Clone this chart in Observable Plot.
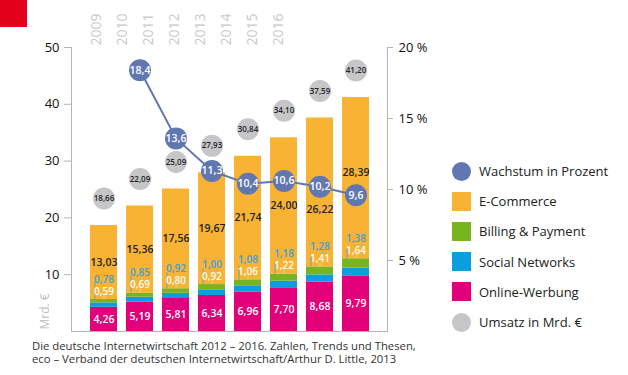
<!DOCTYPE html>
<html>
<head>
<meta charset="utf-8">
<script src="https://cdn.jsdelivr.net/npm/d3@7"></script>
<script src="https://cdn.jsdelivr.net/npm/@observablehq/plot@0.6"></script>
<style>
  body { margin: 0; background: #fff; font-family: "Open Sans", sans-serif; }
  #wrap { position: relative; width: 628px; height: 375px; overflow: hidden; }
  #red { position: absolute; left: 0; top: 0; width: 27px; height: 27px; background: #e2001a; z-index: 3; }
  #main, #years { position: absolute; left: 0; top: 0; }
  #years { z-index: 2; }
  #legend { position: absolute; left: 452px; top: 156px; font-size: 13px; color: #222; }
  .row { height: 30.2px; display: flex; align-items: center; white-space: nowrap; }
  .mk { width: 19px; height: 19px; margin-right: 8px; box-sizing: border-box; }
  .circle { border-radius: 50%; }
  #caption { position: absolute; left: 32px; top: 340px; font-size: 11.3px; line-height: 12.5px; color: #333; white-space: nowrap; }
  #caption div { height: 12.5px; }
</style>
</head>
<body>
<div id="wrap">
  <div id="red"></div>
  <div id="main"></div>
  <div id="years"></div>
  <div id="legend"></div>
  <div id="caption"><div>Die deutsche Internetwirtschaft 2012 – 2016. Zahlen, Trends und Thesen,</div><div>eco – Verband der deutschen Internetwirtschaft/Arthur D. Little, 2013</div></div>
</div>
<script>
// ---- data ----
const years = ["2009", "2010", "2011", "2012", "2013", "2014", "2015", "2016"];
const onlineWerbung = [4.26, 5.19, 5.81, 6.34, 6.96, 7.70, 8.68, 9.79];
const socialNetworks = [0.78, 0.85, 0.92, 1.00, 1.08, 1.18, 1.28, 1.38];
const billingPayment = [0.59, 0.69, 0.80, 0.92, 1.06, 1.22, 1.41, 1.64];
const eCommerce = [13.03, 15.36, 17.56, 19.67, 21.74, 24.00, 26.22, 28.39];
const umsatz = [18.66, 22.09, 25.09, 27.93, 30.84, 34.10, 37.59, 41.20];
const growthYears = ["2010", "2011", "2012", "2013", "2014", "2015", "2016"];
const wachstum = [18.4, 13.6, 11.3, 10.4, 10.6, 10.2, 9.6];
const leftTicks = [10, 20, 30, 40, 50];
const rightTicks = [5, 10, 15, 20];
const seriesNames = ["Online-Werbung", "Social Networks", "Billing & Payment", "E-Commerce"];
const seriesColors = ["#e2007a", "#0a9ee0", "#78b41f", "#f8b234"];

// ---- derived tables ----
const pctMax = 20, yMax = 50;
const pctToY = p => p * yMax / pctMax;
const growthByYear = new Map(growthYears.map((y, i) => [y, pctToY(wachstum[i])]));
const seriesValues = [onlineWerbung, socialNetworks, billingPayment, eCommerce];
const stackRows = [];
years.forEach((y, i) => seriesNames.forEach((s, k) => stackRows.push({year: y, series: s, value: seriesValues[k][i]})));
const avoid = 4; // keep E-Commerce labels clear of the growth circles (in y units)
const rows = years.map((y, i) => {
  const o = onlineWerbung[i], s = socialNetworks[i], b = billingPayment[i], e = eCommerce[i];
  let eLab = o + s + b + e / 2;
  const g = growthByYear.get(y);
  if (g !== undefined && Math.abs(eLab - g) < avoid) eLab = eLab < g ? g - avoid : g + avoid;
  return {year: y, o, s, b, e, total: umsatz[i], sMid: o + s / 2, gTop: o + s + b, eLab};
});
const growthRows = growthYears.map((y, i) => ({year: y, p: wachstum[i]}));
const fmt2 = v => v.toFixed(2).replace(".", ",");
const fmt1 = v => v.toFixed(1).replace(".", ",");
const font = "Open Sans";

const axisGrey = "#b4b4b4";
const growthBlue = "#6177b1";

const chart = Plot.plot({
  width: 628,
  height: 336,
  marginTop: 47,
  marginBottom: 5,
  marginLeft: 71,
  marginRight: 241,
  style: {fontFamily: font, background: "transparent", overflow: "visible"},
  x: {type: "band", domain: years, paddingInner: 0.26, paddingOuter: 0.467, axis: null},
  y: {domain: [0, yMax], axis: null},
  color: {domain: seriesNames, range: seriesColors},
  marks: [
    Plot.barY(stackRows, {x: "year", y: "value", fill: "series"}),
    Plot.frame({anchor: "left", stroke: axisGrey}),
    Plot.frame({anchor: "right", stroke: axisGrey}),
    Plot.frame({anchor: "bottom", stroke: axisGrey}),
    Plot.axisY(leftTicks, {anchor: "left", tickSize: 7, tickPadding: 5, fontSize: 13, stroke: axisGrey, fill: "#111", label: null}),
    Plot.axisY(rightTicks.map(pctToY), {anchor: "right", tickSize: 5, tickPadding: 6, fontSize: 13, stroke: axisGrey, fill: "#111", label: null, tickFormat: d => (d * pctMax / yMax) + " %"}),
    Plot.text(["Mrd. €"], {frameAnchor: "bottom-left", dx: -23, dy: -2, rotate: -90, textAnchor: "start", fontSize: 12, fill: "#bdbdbd"}),
    // leader lines
    Plot.ruleX(rows, {x: "year", y1: "sMid", y2: "gTop", dx: -9, insetTop: -23, stroke: "#3aa3dc", strokeOpacity: 0.75}),
    Plot.ruleX(rows, {x: "year", y1: "gTop", y2: "gTop", insetTop: -4, stroke: "#c9dea0"}),
    // segment labels
    Plot.text(rows, {x: "year", y: d => d.o / 2, text: d => fmt2(d.o), fill: "#fff", fontSize: 10.5, fontWeight: 600}),
    Plot.text(rows, {x: "year", y: "eLab", text: d => fmt2(d.e), fill: "#222", fontSize: 10.5, fontWeight: 600}),
    Plot.text(rows, {x: "year", y: "gTop", dy: -8, text: d => fmt2(d.b), fill: "#fff", fontSize: 10, fontWeight: 600}),
    Plot.text(rows, {x: "year", y: "gTop", dy: -20, text: d => fmt2(d.s), fill: "#3aa3dc", fontSize: 10, fontWeight: 600}),
    // Umsatz circles
    Plot.dot(rows, {x: "year", y: "total", dy: -27, r: 11, fill: "#c6c6c8"}),
    Plot.text(rows, {x: "year", y: "total", dy: -27, text: d => fmt2(d.total), fill: "#222", fontSize: 8, fontWeight: 600}),
    // growth line
    Plot.line(growthRows, {x: "year", y: d => pctToY(d.p), stroke: growthBlue, strokeWidth: 2}),
    Plot.dot(growthRows, {x: "year", y: d => pctToY(d.p), r: 11, fill: growthBlue}),
    Plot.text(growthRows, {x: "year", y: d => pctToY(d.p), text: d => fmt1(d.p), fill: "#fff", fontSize: 10.5, fontWeight: 600})
  ]
});
document.getElementById("main").appendChild(chart);

const yearPlot = Plot.plot({
  width: 628,
  height: 47,
  margin: 0,
  style: {fontFamily: font, background: "transparent"},
  x: {type: "point", domain: years, range: [85, 296], axis: null},
  marks: [
    Plot.text(years, {x: d => d, frameAnchor: "bottom", dy: -2, rotate: -90, textAnchor: "start", fontSize: 14, fill: "#c9c9c9"})
  ]
});
document.getElementById("years").appendChild(yearPlot);

// legend
const legendItems = [
  {label: "Wachstum in Prozent", color: growthBlue, shape: "circle"},
  {label: "E-Commerce", color: seriesColors[3], shape: "square"},
  {label: "Billing & Payment", color: seriesColors[2], shape: "square"},
  {label: "Social Networks", color: seriesColors[1], shape: "square"},
  {label: "Online-Werbung", color: seriesColors[0], shape: "square"},
  {label: "Umsatz in Mrd. €", color: "#c6c6c8", shape: "circle"}
];
const legend = d3.select("#legend");
legendItems.forEach(it => {
  const r = legend.append("div").attr("class", "row");
  r.append("div").attr("class", "mk " + it.shape).style("background", it.color);
  r.append("span").text(it.label);
});
</script>
</body>
</html>
